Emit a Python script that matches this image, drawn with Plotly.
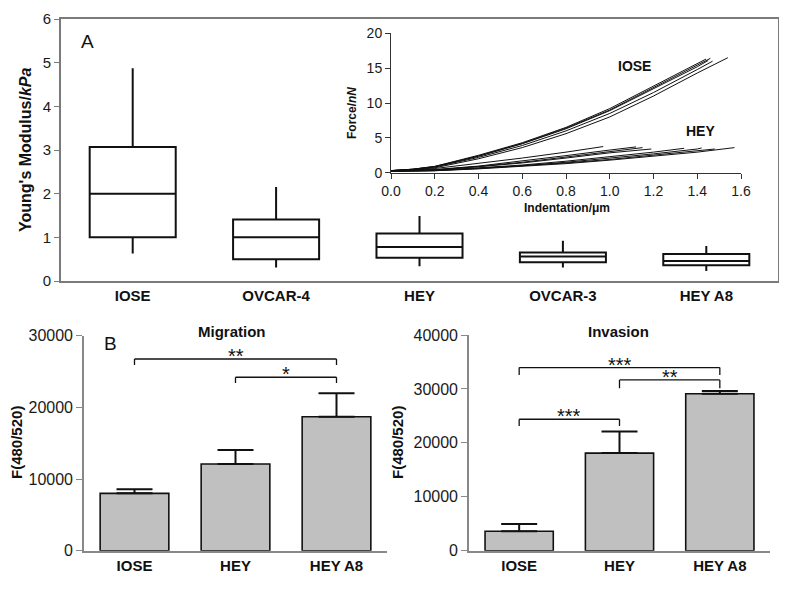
import plotly.graph_objects as go

PAGE_W, PAGE_H = 787, 595
BODY = 8  # default page margin around the figure
W, H = PAGE_W - 2 * BODY, PAGE_H - 2 * BODY
FONT = "Liberation Sans, Arial, sans-serif"

# ---- Panel A: Young's modulus box plot ----
box_categories = ["IOSE", "OVCAR-4", "HEY", "OVCAR-3", "HEY A8"]
box_lower = [0.63, 0.31, 0.34, 0.31, 0.23]
box_q1 = [1.00, 0.50, 0.53, 0.43, 0.36]
box_median = [2.00, 1.00, 0.78, 0.56, 0.46]
box_q3 = [3.07, 1.41, 1.09, 0.65, 0.62]
box_upper = [4.87, 2.15, 1.49, 0.92, 0.80]
box_yticks = [0, 1, 2, 3, 4, 5, 6]

# ---- Inset: force-indentation curves ----
iose_curve_x = [
    [0, 0.1, 0.2, 0.4, 0.6, 0.8, 1.0, 1.2, 1.4, 1.44],
    [0, 0.1, 0.2, 0.4, 0.6, 0.8, 1.0, 1.2, 1.4, 1.46],
    [0, 0.1, 0.2, 0.4, 0.6, 0.8, 1.0, 1.2, 1.4, 1.45],
    [0, 0.1, 0.2, 0.4, 0.6, 0.8, 1.0, 1.2, 1.4, 1.47],
    [0, 0.1, 0.2, 0.4, 0.6, 0.8, 1.0, 1.2, 1.4, 1.54],
]
iose_curve_y = [
    [0.3, 0.5, 0.9, 2.5, 4.3, 6.5, 9.2, 12.4, 15.6, 16.3],
    [0.3, 0.5, 0.9, 2.4, 4.2, 6.4, 9.0, 12.2, 15.4, 16.4],
    [0.3, 0.5, 0.85, 2.35, 4.15, 6.3, 8.9, 12.0, 15.2, 16.1],
    [0.3, 0.45, 0.8, 2.2, 3.9, 6.0, 8.5, 11.5, 14.8, 16.0],
    [0.3, 0.4, 0.7, 2.0, 3.6, 5.6, 8.0, 11.0, 14.3, 16.5],
]
hey_curve_x = [
    [0, 0.1, 0.2, 0.4, 0.6, 0.8, 0.97],
    [0, 0.1, 0.2, 0.4, 0.6, 0.8, 1.0, 1.12],
    [0, 0.1, 0.2, 0.4, 0.6, 0.8, 1.0, 1.15],
    [0, 0.1, 0.2, 0.4, 0.6, 0.8, 1.0, 1.19],
    [0, 0.1, 0.2, 0.4, 0.6, 0.8, 1.0, 1.2, 1.34],
    [0, 0.1, 0.2, 0.4, 0.6, 0.8, 1.0, 1.2, 1.4, 1.42],
    [0, 0.1, 0.2, 0.4, 0.6, 0.8, 1.0, 1.2, 1.4, 1.48],
    [0, 0.1, 0.2, 0.4, 0.6, 0.8, 1.0, 1.2, 1.4, 1.57],
]
hey_curve_y = [
    [0.3, 0.35, 0.6, 1.3, 2.1, 2.95, 3.75],
    [0.25, 0.3, 0.45, 0.95, 1.65, 2.45, 3.25, 3.7],
    [0.25, 0.3, 0.4, 0.9, 1.5, 2.25, 3.05, 3.6],
    [0.25, 0.3, 0.4, 0.85, 1.4, 2.1, 2.85, 3.4],
    [0.2, 0.25, 0.35, 0.7, 1.1, 1.65, 2.25, 2.95, 3.5],
    [0.2, 0.25, 0.3, 0.65, 1.0, 1.5, 2.05, 2.7, 3.4, 3.55],
    [0.2, 0.22, 0.3, 0.6, 0.95, 1.4, 1.9, 2.5, 3.1, 3.4],
    [0.2, 0.22, 0.28, 0.55, 0.9, 1.3, 1.8, 2.35, 2.95, 3.6],
]
inset_xticks = [0.0, 0.2, 0.4, 0.6, 0.8, 1.0, 1.2, 1.4, 1.6]
inset_yticks = [0, 5, 10, 15, 20]

# ---- Panel B: migration / invasion ----
bar_categories = ["IOSE", "HEY", "HEY A8"]
migration_mean = [8000, 12100, 18700]
migration_err = [570, 1950, 3260]
invasion_mean = [3600, 18100, 29100]
invasion_err = [1350, 4000, 500]
migration_yticks = [0, 10000, 20000, 30000]
invasion_yticks = [0, 10000, 20000, 30000, 40000]
# brackets: (from category index, to category index, top value, foot value, label)
migration_brackets = [(0, 2, 26750, 25900, "**"), (1, 2, 24200, 23400, "*")]
invasion_brackets = [(0, 2, 33950, 32600, "***"), (1, 2, 31670, 30130, "**"),
                     (0, 1, 24380, 23140, "***")]


def px(x):
    return (x - BODY) / W


def py(y):
    return 1 - (y - BODY) / H


fig = go.Figure()

fig.add_trace(go.Box(
    x=box_categories, q1=box_q1, median=box_median, q3=box_q3,
    lowerfence=box_lower, upperfence=box_upper,
    fillcolor="white", line=dict(color="#111", width=2),
    whiskerwidth=0, width=0.6, boxpoints=False, showlegend=False,
    xaxis="x", yaxis="y", hoverinfo="skip",
))

for cx, cy in zip(iose_curve_x + hey_curve_x, iose_curve_y + hey_curve_y):
    fig.add_trace(go.Scatter(x=cx, y=cy, mode="lines", line=dict(color="#111", width=1),
                             showlegend=False, xaxis="x2", yaxis="y2", hoverinfo="skip"))

for mean, err, xa, ya in [(migration_mean, migration_err, "x3", "y3"),
                          (invasion_mean, invasion_err, "x4", "y4")]:
    fig.add_trace(go.Bar(
        x=bar_categories, y=mean, width=0.68,
        marker=dict(color="#c0c0c0", line=dict(color="#111", width=1.6)),
        error_y=dict(type="data", array=err, arrayminus=[0] * len(err), symmetric=False,
                     color="#111", thickness=2, width=18),
        showlegend=False, xaxis=xa, yaxis=ya, hoverinfo="skip",
    ))

shapes = []
annotations = []
for brackets, xa, ya in [(migration_brackets, "x3", "y3"), (invasion_brackets, "x4", "y4")]:
    for i, j, top, foot, lab in brackets:
        for x0, y0, x1, y1 in [(i, foot, i, top), (i, top, j, top), (j, top, j, foot)]:
            shapes.append(dict(type="line", xref=xa, yref=ya, x0=x0, y0=y0, x1=x1, y1=y1,
                               line=dict(color="#111", width=1.3)))
        annotations.append(dict(xref=xa, yref=ya, x=(i + j) / 2, y=top, text=lab,
                                showarrow=False, yanchor="middle", yshift=3,
                                font=dict(size=20, color="#111", family=FONT)))

tick_font = dict(family=FONT, size=15, color="#1a1a1a")
bar_tick_font = dict(family=FONT, size=16, color="#1a1a1a")
cat_font = dict(family=FONT, size=15, color="#111", weight="bold")
axis_gray = "#7a7a7a"
common = dict(showgrid=False, zeroline=False, automargin=False)

fig.update_layout(
    template="none",
    width=W, height=H, margin=dict(l=0, r=0, t=0, b=0, autoexpand=False),
    paper_bgcolor="white", plot_bgcolor="rgba(0,0,0,0)",
    font=dict(family=FONT, color="#111"),
    shapes=shapes,
    xaxis=dict(domain=[px(61), px(778)], range=[-0.5, 4.5], anchor="y",
               showline=True, mirror=True, linecolor=axis_gray, linewidth=1.6,
               ticks="", tickfont=cat_font, **common),
    yaxis=dict(domain=[py(281), py(19)], range=[0, 6], anchor="x", tickvals=box_yticks,
               showline=True, mirror=True, linecolor=axis_gray, linewidth=1.6,
               ticks="outside", ticklen=5, tickcolor=axis_gray, tickfont=tick_font, **common),
    xaxis2=dict(domain=[px(391), px(741)], range=[0, 1.6], anchor="y2", tickvals=inset_xticks,
                tickformat=".1f", showline=True, linecolor="#333", linewidth=1,
                ticks="outside", ticklen=5, tickcolor="#333",
                tickfont=dict(family=FONT, size=14, color="#1a1a1a"), **common),
    yaxis2=dict(domain=[py(172.7), py(33.3)], range=[0, 20], anchor="x2", tickvals=inset_yticks,
                showline=True, linecolor="#333", linewidth=1,
                ticks="outside", ticklen=5, tickcolor="#333",
                tickfont=dict(family=FONT, size=14, color="#1a1a1a"), **common),
    xaxis3=dict(domain=[px(84), px(387)], range=[-0.5, 2.5], anchor="y3",
                showline=True, linecolor="#888", linewidth=1.6, ticks="",
                tickfont=cat_font, **common),
    yaxis3=dict(domain=[py(550.7), py(335.7)], range=[0, 30000], anchor="x3",
                tickvals=migration_yticks, tickformat="d", showline=True, linecolor="#888",
                linewidth=1.6, ticks="outside", ticklen=6, tickcolor="#888",
                tickfont=bar_tick_font, **common),
    xaxis4=dict(domain=[px(469), px(770)], range=[-0.5, 2.5], anchor="y4",
                showline=True, linecolor="#888", linewidth=1.6, ticks="",
                tickfont=cat_font, **common),
    yaxis4=dict(domain=[py(550.7), py(335)], range=[0, 40000], anchor="x4",
                tickvals=invasion_yticks, tickformat="d", showline=True, linecolor="#888",
                linewidth=1.6, ticks="outside", ticklen=6, tickcolor="#888",
                tickfont=bar_tick_font, **common),
)

bold = dict(family=FONT, color="#111", weight="bold")
annotations += [
    dict(x=px(25), y=py(150), text="Young's Modulus/<i>kPa</i>", textangle=-90,
         font=dict(bold, size=16)),
    dict(x=px(87), y=py(42), text="A", font=dict(family=FONT, size=19, color="#111")),
    dict(x=px(352), y=py(113), text="Force/<i>nN</i>", textangle=-90, font=dict(bold, size=12)),
    dict(x=px(567), y=py(208), text="Indentation/\u03bcm", font=dict(bold, size=12)),
    dict(x=1.115, y=15.3, xref="x2", yref="y2", text="IOSE", font=dict(bold, size=14)),
    dict(x=1.416, y=6.0, xref="x2", yref="y2", text="HEY", font=dict(bold, size=14)),
    dict(x=px(232), y=py(331), text="Migration", font=dict(bold, size=15)),
    dict(x=px(618), y=py(331), text="Invasion", font=dict(bold, size=15)),
    dict(x=px(110), y=py(343), text="B", font=dict(family=FONT, size=19, color="#111")),
    dict(x=px(16), y=py(443), text="F(480/520)", textangle=-90, font=dict(bold, size=15)),
    dict(x=px(397), y=py(443), text="F(480/520)", textangle=-90, font=dict(bold, size=15)),
]
for a in annotations:
    a.setdefault("xref", "paper")
    a.setdefault("yref", "paper")
    a.setdefault("showarrow", False)
    a.setdefault("xanchor", "center")
    a.setdefault("yanchor", "middle")
fig.update_layout(annotations=annotations)

fig.write_html("out.html")
